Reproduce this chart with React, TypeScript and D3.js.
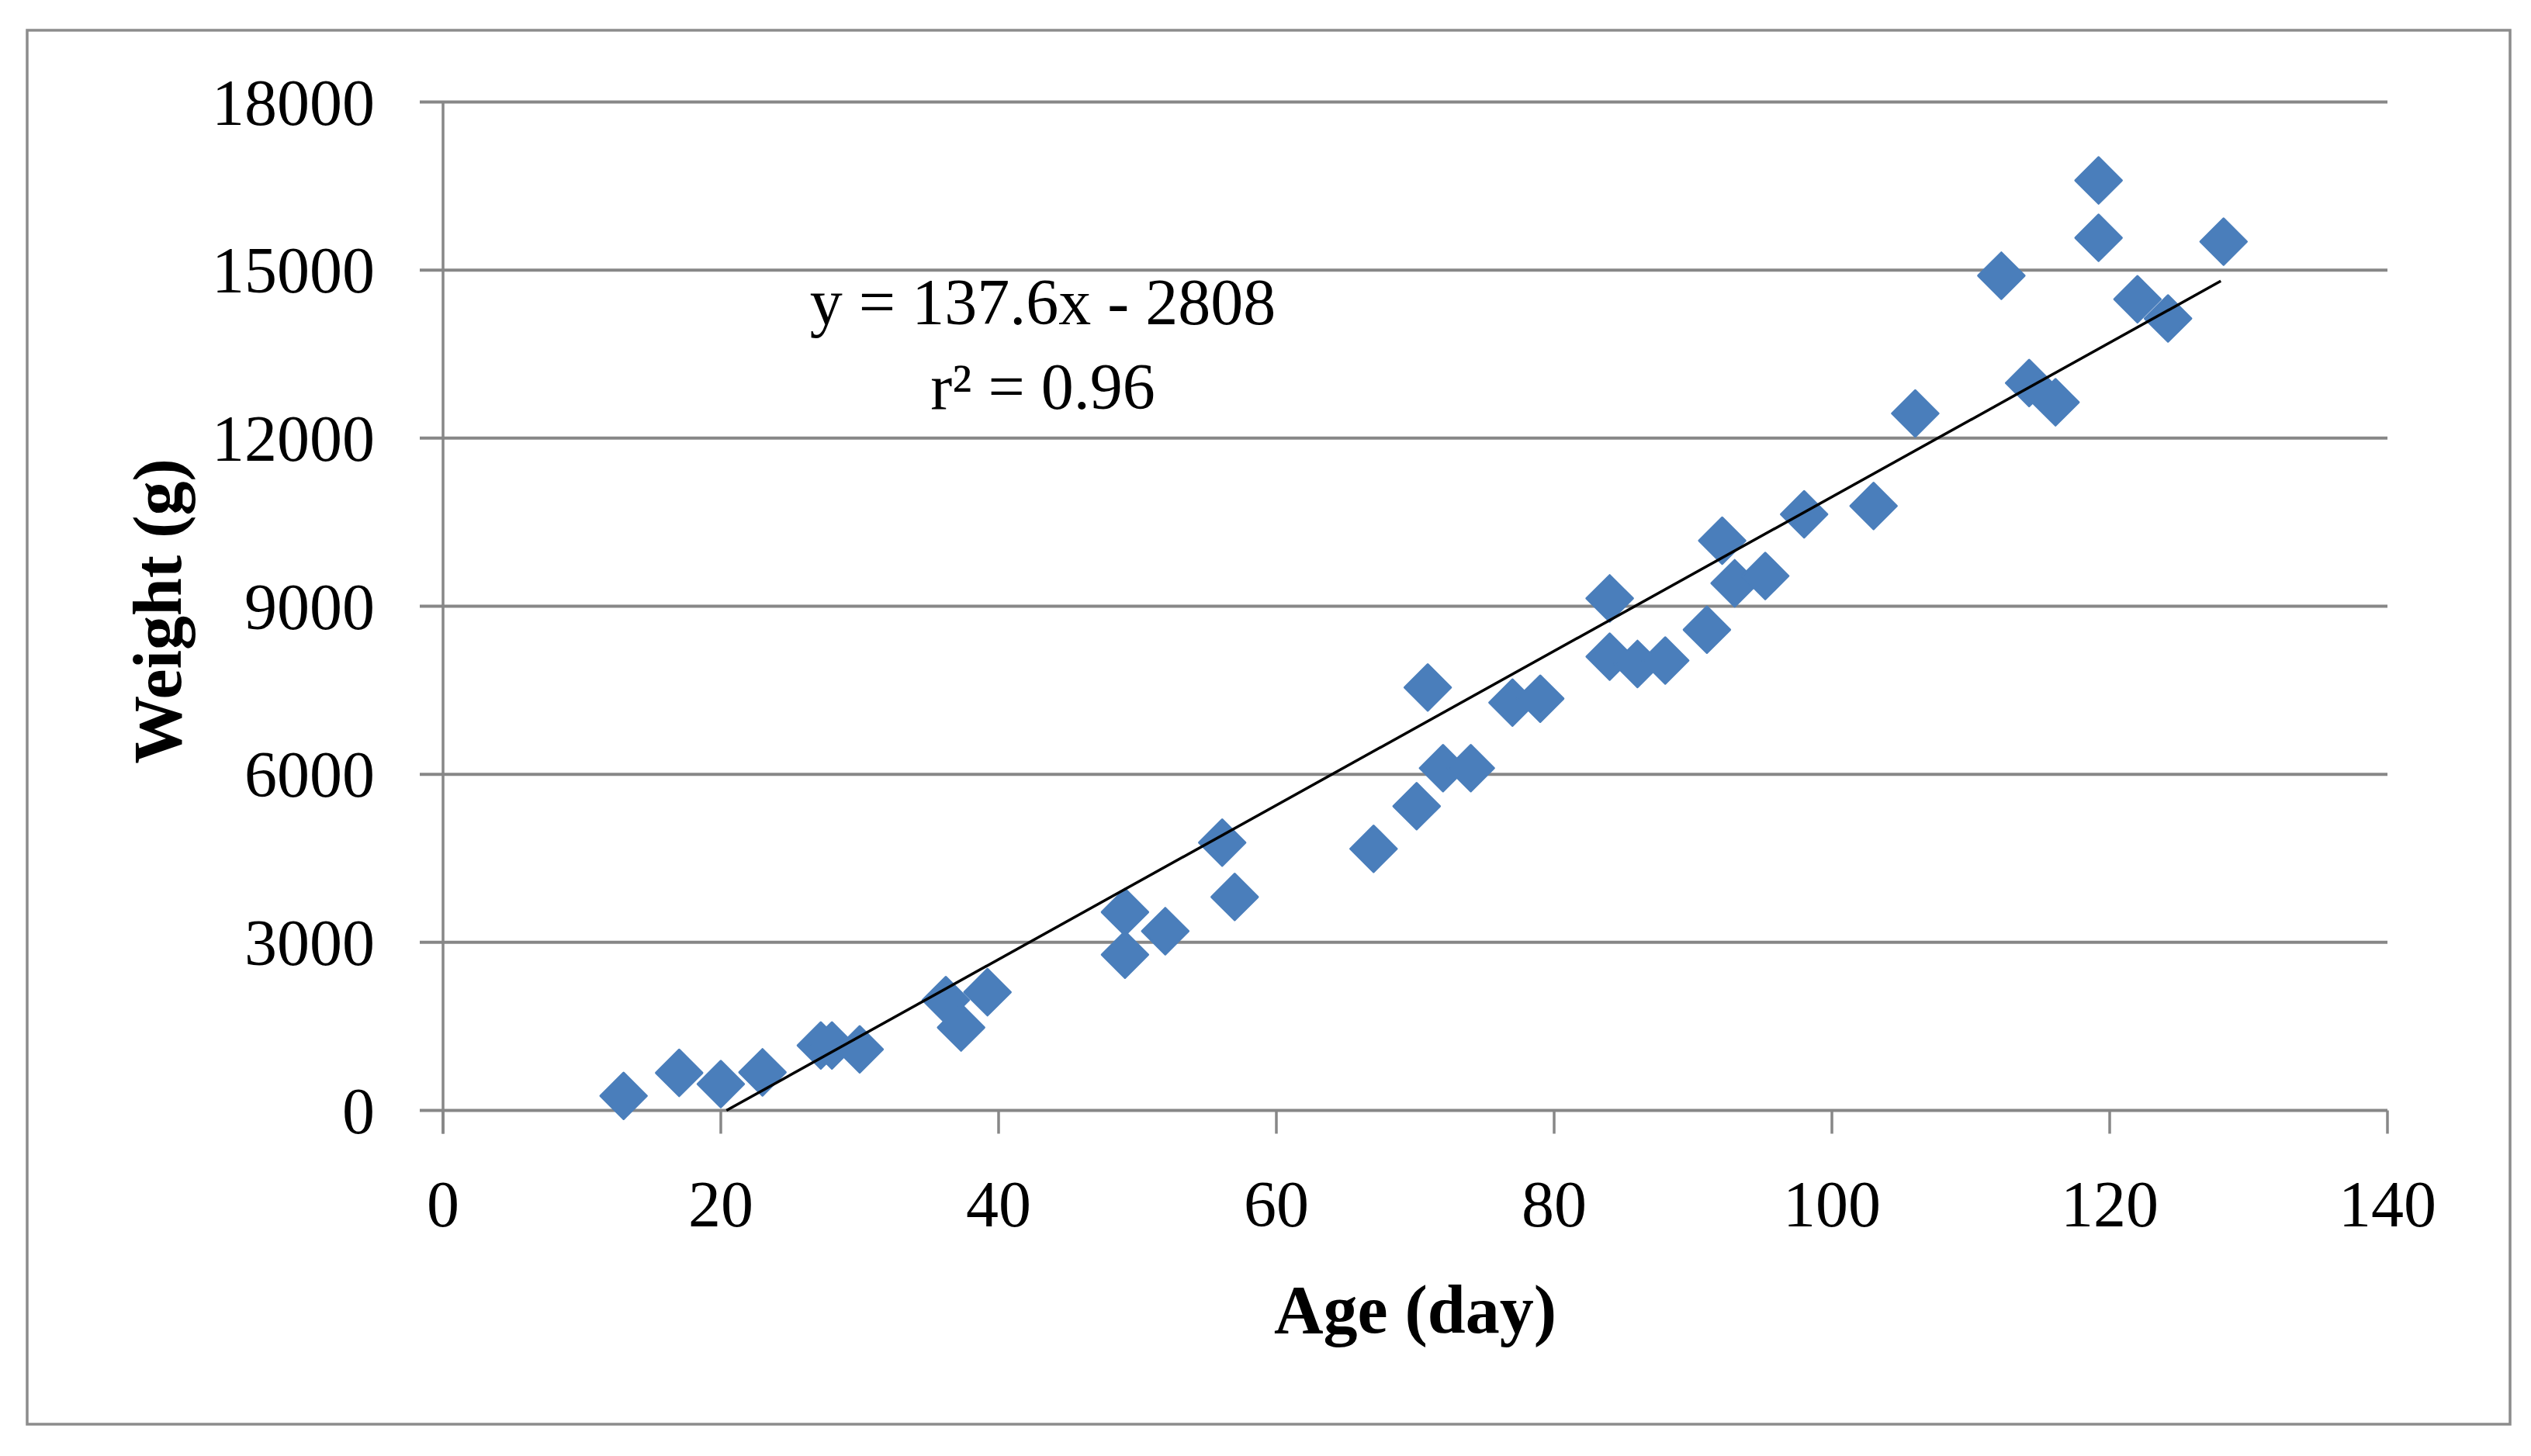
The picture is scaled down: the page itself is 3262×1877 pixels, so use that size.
import React from "react";
import * as d3 from "d3";

// ---- Data ----
const ageDays: number[] = [
  13, 17, 20, 23, 27.2, 28, 30, 36.2, 37.3, 39.2,
  49.1, 49.1, 52, 56.1, 57, 67, 70.1, 70.9, 72, 74,
  77, 79, 84, 84, 86, 88, 91, 92.1, 93, 95.2,
  98, 103, 106, 112.2, 114.2, 116.1, 119.2, 119.2, 122, 124.2,
  128.2,
];
const weightG: number[] = [
  260, 670, 470, 680, 1160, 1160, 1090, 1970, 1480, 2110,
  3540, 2780, 3200, 4780, 3810, 4670, 5430, 7550, 6110, 6110,
  7280, 7350, 9140, 8100, 7970, 8030, 8580, 10170, 9410, 9540,
  10640, 10790, 12440, 14900, 12985, 12640, 16600, 15576, 14480, 14136,
  15508,
];
const xTicks: number[] = [0, 20, 40, 60, 80, 100, 120, 140];
const yTicks: number[] = [0, 3000, 6000, 9000, 12000, 15000, 18000];
const fitSlope = 137.6;
const fitIntercept = -2808;
const fitRange: number[] = [-fitIntercept / fitSlope, 128];
const equationText = "y = 137.6x - 2808";
const r2Text = "r\u00B2 = 0.96";
const xTitle = "Age (day)";
const yTitle = "Weight (g)";

const W = 3262;
const H = 1877;
const FONT = "'Liberation Serif', 'Times New Roman', serif";
const GRID = "#878787";
const BLUE = "#4a7ebb";

export default function App() {
  const x = d3.scaleLinear().domain([0, 140]).range([571, 3077]);
  const y = d3.scaleLinear().domain([0, 18000]).range([1431.5, 131.5]);
  const points = ageDays.map((a, i) => ({ a, w: weightG[i] }));
  const diamond = d3.symbol().type(d3.symbolSquare).size(42 * 42)() as string;
  const fitLine = d3
    .line<number>()
    .x((d) => x(d))
    .y((d) => y(fitSlope * d + fitIntercept))(fitRange) as string;

  const x0 = x(0);
  const x1 = x(140);
  const y0 = y(0);

  return (
    <svg
      width={W}
      height={H}
      style={{ position: "absolute", left: 0, top: 0, display: "block", background: "#fff" }}
      fontFamily={FONT}
    >
      <rect x={0} y={0} width={W} height={H} fill="#fff" />
      {/* outer frame */}
      <rect x={35} y={39} width={3200} height={1797} fill="none" stroke="#8c8c8c" strokeWidth={3.5} />

      {/* horizontal gridlines with outward ticks */}
      {yTicks.map((t) => (
        <line key={"g" + t} x1={x0 - 30} x2={x1} y1={y(t)} y2={y(t)} stroke={GRID} strokeWidth={4} />
      ))}
      {/* y axis */}
      <line x1={x0} x2={x0} y1={y(18000)} y2={y0 + 30} stroke={GRID} strokeWidth={3.5} />
      {/* x ticks */}
      {xTicks.map((t) => (
        <line key={"xt" + t} x1={x(t)} x2={x(t)} y1={y0} y2={y0 + 30} stroke={GRID} strokeWidth={3.5} />
      ))}

      {/* y tick labels */}
      {yTicks.map((t) => (
        <text key={"yl" + t} x={483} y={y(t) + 29} textAnchor="end" fontSize={84} fill="#000">
          {t}
        </text>
      ))}
      {/* x tick labels */}
      {xTicks.map((t) => (
        <text key={"xl" + t} x={x(t)} y={1581} textAnchor="middle" fontSize={84} fill="#000">
          {t}
        </text>
      ))}

      {/* axis titles */}
      <text x={(x0 + x1) / 2} y={1718} textAnchor="middle" fontSize={88} fontWeight="bold" fill="#000">
        {xTitle}
      </text>
      <text
        transform={`translate(233, 788) rotate(-90)`}
        textAnchor="middle"
        fontSize={88}
        fontWeight="bold"
        fill="#000"
      >
        {yTitle}
      </text>

      {/* data points */}
      {points.map((p, i) => (
        <path
          key={"p" + i}
          d={diamond}
          transform={`translate(${x(p.a)}, ${y(p.w)}) rotate(45)`}
          fill={BLUE}
          stroke={BLUE}
          strokeWidth={3}
          strokeLinejoin="round"
        />
      ))}

      {/* regression line */}
      <path d={fitLine} fill="none" stroke="#000" strokeWidth={3.5} />

      {/* equation */}
      <text x={1344} y={418} textAnchor="middle" fontSize={84} fill="#000">
        {equationText}
      </text>
      <text x={1344} y={527} textAnchor="middle" fontSize={84} fill="#000">
        {r2Text}
      </text>
    </svg>
  );
}
